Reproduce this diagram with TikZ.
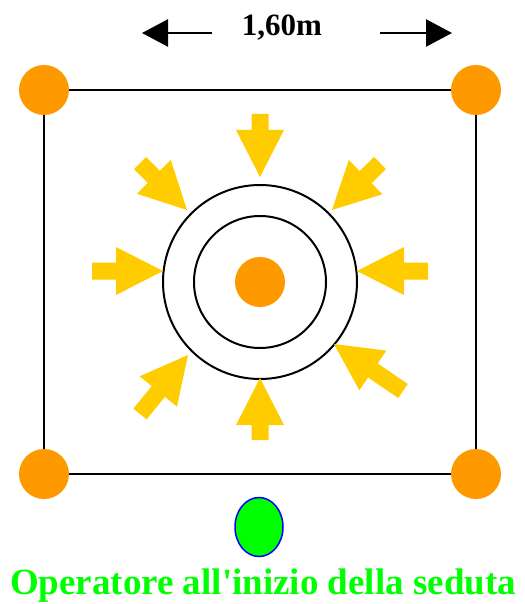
\documentclass[tikz,border=0pt]{standalone}
\usepackage{fontspec}
\setmainfont{Liberation Serif}
\usetikzlibrary{calc,arrows.meta,shapes.geometric}

\definecolor{dotorange}{HTML}{FF9900}
\definecolor{pushyellow}{HTML}{FFCC00}
\definecolor{opgreen}{HTML}{00FF00}

% Block arrow from tail #1 to tip #2
\newcommand{\pusharrow}[2]{%
  \coordinate (hb) at ($(#2)!\headlen!(#1)$);
  \fill[pushyellow]
    ($(#1)!\shafthw!90:(#2)$) -- ($(hb)!\shafthw!90:(#2)$)
    -- ($(hb)!\headhw!90:(#2)$) -- (#2)
    -- ($(hb)!\headhw!-90:(#2)$) -- ($(hb)!\shafthw!-90:(#2)$)
    -- ($(#1)!\shafthw!-90:(#2)$) -- cycle;
}

\begin{document}
\begin{tikzpicture}[x=1pt, y=-1pt]

    % Styles for the dots, rings and labels
    \tikzset{dot/.style={circle, fill=dotorange, inner sep=0pt, minimum size=50pt},
             ring/.style={circle, draw=black, line width=2pt, inner sep=0pt},
             dimarrow/.style={line width=2.5pt, -{Triangle[length=26pt, width=27pt]}},
             lbl/.style={inner sep=0pt, font=\bfseries}}

    % Sizes of the yellow arrows
    \def\headlen{47pt}  % length of the head
    \def\headhw{24pt}   % half width of the head
    \def\shafthw{8.5pt} % half width of the shaft

    \useasboundingbox (0,0) rectangle (524,604);

    % --- Corner dots and frame ---
    \node[dot] (nw) at (44,90) {};
    \node[dot] (ne) at (476,90) {};
    \node[dot] (se) at (476,474) {};
    \node[dot] (sw) at (44,474) {};
    \draw[line width=2pt] (nw) -- (ne) -- (se) -- (sw) -- (nw);

    % --- Centre: two rings and the dot ---
    \node[ring, minimum size=194pt] (outer) at (260,282) {};
    \node[ring, minimum size=132pt] (inner) at (260,282) {};
    \node[dot] (hub) at (260,282) {};

    % --- Yellow arrows pushing inwards (tail/tip) ---
    \foreach \tail/\tip in {{260,114}/{260,177}, {260,440}/{260,378},
                            {92,271}/{163,271}, {428,271}/{357,271},
                            {140,163}/{187,210}, {380,163}/{332,210},
                            {140,414}/{188,355}, {403,391}/{334,344}}
      \pusharrow{\tail}{\tip};

    % --- Dimension on top ---
    \node[lbl, anchor=base, font=\fontsize{31}{36}\selectfont\bfseries] (dim) at (282,36) {1,60m};
    \coordinate (dimL) at (142,33);
    \coordinate (dimR) at (452,33);
    \draw[dimarrow] (212,33) -- (dimL);
    \draw[dimarrow] (380,33) -- (dimR);

    % --- Operator ---
    \node[ellipse, fill=opgreen, draw=blue, line width=1.5pt,
          minimum width=48pt, minimum height=59pt, inner sep=0pt] (op) at (259,527) {};
    \node[lbl, anchor=base, text=opgreen,
          font=\fontsize{37}{42}\selectfont\bfseries] (oplbl) at (263,594)
      {Operatore all\textquotesingle inizio della seduta};
\end{tikzpicture}
\end{document}
